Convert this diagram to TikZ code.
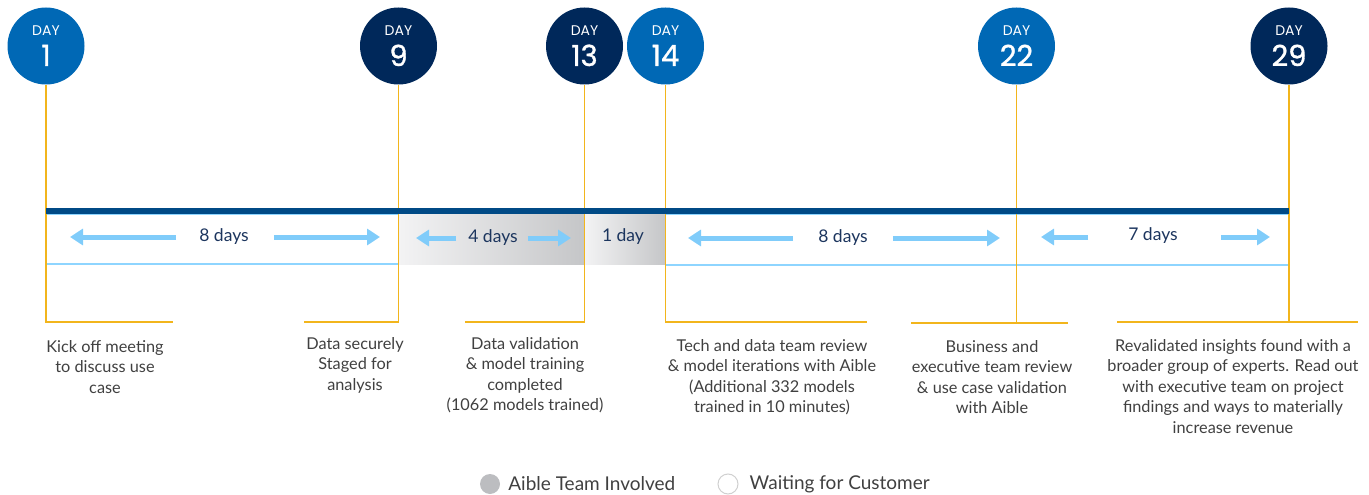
\documentclass[tikz,border=0pt]{standalone}
\usepackage{fontspec}
\setmainfont{Lato}
\newfontfamily\dayfont{Poppins}
\newfontfamily\daynumfont{Poppins}[FakeBold=1.1]
\usetikzlibrary{positioning,arrows.meta}

\definecolor{intelblue}{HTML}{0068B5}
\definecolor{intelnavy}{HTML}{00285A}
\definecolor{barblue}{HTML}{004A86}
\definecolor{arrowblue}{HTML}{80CCFA}
\definecolor{spanline}{HTML}{8ED5FF}
\definecolor{tickgold}{HTML}{F2B51C}
\definecolor{notegrey}{HTML}{404040}
\definecolor{spantext}{HTML}{1C355E}
\definecolor{busylight}{HTML}{F3F3F4}
\definecolor{busydark}{HTML}{C5C6C8}
\definecolor{keygrey}{HTML}{BCBDC0}
\definecolor{keyring}{HTML}{D0D0D0}

\tikzset{
	milestone/.style={circle, minimum size=77pt, inner sep=0pt, text=white, align=center, font=\dayfont},
	bluefill/.style={milestone, fill=intelblue},
	navyfill/.style={milestone, fill=intelnavy},
	tick/.style={draw=tickgold, line width=1.6pt},
	timebar/.style={draw=barblue, line width=6pt},
	spanbox/.style={draw=spanline, line width=1.5pt},
	busybox/.style={left color=busylight, right color=busydark, draw=none},
	durarrow/.style={draw=arrowblue, line width=5pt, -{Triangle[length=13pt,width=16pt]}},
	spanlabel/.style={text=spantext, font=\fontsize{17.5}{20}\selectfont, inner sep=0pt},
	note/.style={text=notegrey, align=center, font=\fontsize{16.3}{20.5}\selectfont, inner sep=0pt, anchor=north},
	keytext/.style={text=notegrey, font=\fontsize{19}{22}\selectfont, inner sep=0pt},
}

\newcommand{\daylabel}[1]{{\fontsize{14}{14}\selectfont DAY}\\[8pt]{\fontsize{29}{29}\daynumfont #1}}

\begin{document}
\begin{tikzpicture}[x=1pt, y=-1pt]
	\useasboundingbox (0,0) rectangle (1369,495);
	
	% Define nodes
	\node[bluefill] (day1)  at (46,46)     {\daylabel{1}};
	\node[navyfill] (day9)  at (398.5,46)  {\daylabel{9}};
	\node[navyfill] (day13) at (584.5,46)  {\daylabel{13}};
	\node[bluefill] (day14) at (665.5,46)  {\daylabel{14}};
	\node[bluefill] (day22) at (1016.5,46) {\daylabel{22}};
	\node[navyfill] (day29) at (1289,46)   {\daylabel{29}};
	
	\coordinate (bar0) at (46,211);
	\coordinate (bar1) at (1289,211);
	
	\coordinate (k1)   at (46,322);    \coordinate (k1r)  at (173,322);
	\coordinate (k9)   at (398.5,322); \coordinate (k9l)  at (304,322);
	\coordinate (k13)  at (584.5,322); \coordinate (k13l) at (465,322);
	\coordinate (k14)  at (665.5,322); \coordinate (k14r) at (867,322);
	\coordinate (k22)  at (1016.5,323); \coordinate (k22l) at (911,323); \coordinate (k22r) at (1068,323);
	\coordinate (k29)  at (1289,322);  \coordinate (k29l) at (1117,322); \coordinate (k29r) at (1358,322);
	
	% Spans
	\draw[spanbox] (46,214) rectangle (398.5,264);
	\path[busybox] (398.5,214) rectangle (584.5,264);
	\path[busybox] (584.5,214) rectangle (665.5,264);
	\draw[spanbox] (665.5,214) rectangle (1016.5,265);
	\draw[spanbox] (1016.5,214) rectangle (1289,265);
	
	\node[spanlabel] (s1)  at (224,237)  {8 days};
	\node[spanlabel] (s9)  at (493,238)  {4 days};
	\node[spanlabel] (s13) at (623,237)  {1 day};
	\node[spanlabel] (s14) at (843,238)  {8 days};
	\node[spanlabel] (s22) at (1153,236) {7 days};
	
	\coordinate (s1l)  at (70,237);   \coordinate (s1r)  at (380,237);
	\coordinate (s9l)  at (416,238);  \coordinate (s9r)  at (571,238);
	\coordinate (s14l) at (688,238);  \coordinate (s14r) at (1000,238);
	\coordinate (s22l) at (1041,237); \coordinate (s22r) at (1270,237);
	
	% Connect the nodes
	\draw[tick] (day1) -- (k1) -- (k1r);
	\draw[tick] (day9) -- (k9) -- (k9l);
	\draw[tick] (day13) -- (k13) -- (k13l);
	\draw[tick] (day14) -- (k14) -- (k14r);
	\draw[tick] (day22) -- (k22); \draw[tick] (k22l) -- (k22r);
	\draw[tick] (day29) -- (k29); \draw[tick] (k29l) -- (k29r);
	
	\draw[timebar] (bar0) -- (bar1);
	
	\draw[durarrow, shorten <=23pt] (s1.west |- s1l) -- (s1l);
	\draw[durarrow, shorten <=25pt] (s1.east |- s1r) -- (s1r);
	\draw[durarrow, shorten <=12pt] (s9.west |- s9l) -- (s9l);
	\draw[durarrow, shorten <=10pt] (s9.east |- s9r) -- (s9r);
	\draw[durarrow, shorten <=25pt] (s14.west |- s14l) -- (s14l);
	\draw[durarrow, shorten <=25pt] (s14.east |- s14r) -- (s14r);
	\draw[durarrow, shorten <=40pt] (s22.west |- s22l) -- (s22l);
	\draw[durarrow, shorten <=43pt] (s22.east |- s22r) -- (s22r);
	
	% Notes
	\node[note] (n1)  at (105,340)  {Kick off meeting\\to discuss use\\case};
	\node[note] (n9)  at (355,337)  {Data securely\\Staged for\\analysis};
	\node[note] (n13) at (525,337)  {Data validation\\\& model training\\completed\\(1062 models trained)};
	\node[note] (n14) at (772,339)  {Tech and data team review\\\& model iterations with Aible\\(Additional 332 models\\trained in 10 minutes)};
	\node[note] (n22) at (992,340)  {Business and\\executive team review\\\& use case validation\\with Aible};
	\node[note] (n29) at (1233,339) {Revalidated insights found with a\\broader group of experts. Read out\\with executive team on project\\findings and ways to materially\\increase revenue};
	
	% Legend
	\node[circle, fill=keygrey, minimum size=20pt, inner sep=0pt] (busykey) at (490,484) {};
	\node[keytext, right=8pt of busykey] (busytext) {Aible Team Involved};
	\node[circle, draw=keyring, line width=1pt, fill=white, minimum size=20pt, inner sep=0pt] (waitkey) at (728,484) {};
	\node[keytext, right=11pt of waitkey] (waittext) {Waiting for Customer};
	
\end{tikzpicture}
\end{document}
